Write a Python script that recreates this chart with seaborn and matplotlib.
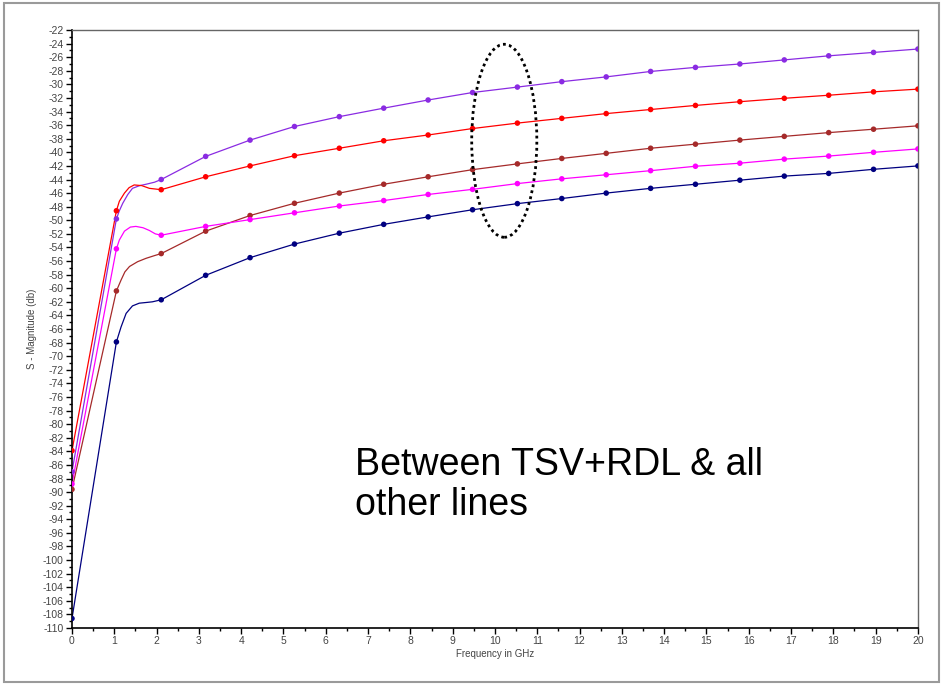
import numpy as np
import pandas as pd
import seaborn as sns
import matplotlib.pyplot as plt
from matplotlib.patches import Ellipse, Rectangle
from matplotlib.ticker import MultipleLocator

# frequency of the sample points (GHz)
freq = [0, 1.05, 2.11, 3.16, 4.21, 5.26, 6.32, 7.37, 8.42, 9.47,
        10.53, 11.58, 12.63, 13.68, 14.74, 15.79, 16.84, 17.89, 18.95, 20.0]

# S-magnitude (dB)
s_purple = [-87.0, -49.8, -44.0, -40.6, -38.2, -36.2, -34.75, -33.5, -32.3, -31.2,
            -30.4, -29.6, -28.9, -28.1, -27.5, -27.0, -26.4, -25.8, -25.3, -24.8]
s_red = [-83.9, -48.6, -45.5, -43.6, -42.0, -40.5, -39.4, -38.3, -37.45, -36.5,
         -35.7, -35.0, -34.3, -33.7, -33.1, -32.55, -32.05, -31.6, -31.1, -30.7]
s_brown = [-89.6, -60.4, -54.9, -51.6, -49.3, -47.5, -46.0, -44.7, -43.6, -42.55,
           -41.7, -40.9, -40.15, -39.4, -38.8, -38.2, -37.65, -37.1, -36.6, -36.1]
s_magenta = [-88.8, -54.2, -52.2, -50.9, -49.9, -48.9, -47.9, -47.1, -46.2, -45.45,
             -44.6, -43.9, -43.3, -42.7, -42.05, -41.6, -41.0, -40.55, -40.0, -39.5]
s_navy = [-108.6, -67.9, -61.7, -58.1, -55.5, -53.5, -51.9, -50.6, -49.5, -48.45,
          -47.55, -46.8, -46.0, -45.3, -44.7, -44.1, -43.5, -43.1, -42.5, -42.0]

# extra points of the drawn curves between the 1st and 2nd GHz (the bumps)
bend_purple_x = [1.12, 1.2, 1.32, 1.43, 1.6, 1.75, 1.95]
bend_purple_y = [-48.6, -47.5, -46.2, -45.3, -44.9, -44.7, -44.4]
bend_red_x = [1.12, 1.24, 1.35, 1.47, 1.65, 1.83]
bend_red_y = [-47.2, -46.0, -45.2, -44.8, -44.9, -45.3]
bend_brown_x = [1.16, 1.25, 1.36, 1.55, 1.75, 1.95]
bend_brown_y = [-58.8, -57.6, -56.8, -56.1, -55.6, -55.2]
bend_magenta_x = [1.12, 1.24, 1.38, 1.51, 1.68, 1.83, 1.97]
bend_magenta_y = [-52.9, -51.6, -51.0, -50.9, -51.1, -51.5, -52.0]
bend_navy_x = [1.16, 1.28, 1.43, 1.59, 1.75, 1.9]
bend_navy_y = [-65.7, -63.7, -62.6, -62.2, -62.1, -62.0]

series = {
    'purple': (s_purple, bend_purple_x, bend_purple_y),
    'red': (s_red, bend_red_x, bend_red_y),
    'brown': (s_brown, bend_brown_x, bend_brown_y),
    'magenta': (s_magenta, bend_magenta_x, bend_magenta_y),
    'navy': (s_navy, bend_navy_x, bend_navy_y),
}
palette = {'purple': '#8a2be2', 'red': '#ff0000', 'brown': '#a52a2a',
           'magenta': '#ff00ff', 'navy': '#000080'}

pts = []
curve = []
for name, (vals, bx, by) in series.items():
    pts.append(pd.DataFrame({'f': freq, 's': vals, 'line': name}))
    c = pd.DataFrame({'f': freq + bx, 's': vals + by, 'line': name})
    curve.append(c.sort_values('f'))
pts = pd.concat(pts)
curve = pd.concat(curve)

sns.set_style('white')
plt.rcParams['font.family'] = ['Liberation Sans', 'DejaVu Sans']
plt.rcParams['axes.unicode_minus'] = False

fig = plt.figure(figsize=(9.41, 6.85), dpi=100)
ax = fig.add_axes([0.0765, 0.0832, 0.899, 0.873])

sns.lineplot(data=curve, x='f', y='s', hue='line', palette=palette,
             sort=False, estimator=None, linewidth=0.9, legend=False, ax=ax)
sns.scatterplot(data=pts, x='f', y='s', hue='line', palette=palette,
                s=16, linewidth=0, legend=False, ax=ax, zorder=3)

ax.set_xlim(0, 20)
ax.set_ylim(-110, -22)
ax.xaxis.set_major_locator(MultipleLocator(1))
ax.xaxis.set_minor_locator(MultipleLocator(0.5))
ax.yaxis.set_major_locator(MultipleLocator(2))
ax.yaxis.set_minor_locator(MultipleLocator(1))
ax.tick_params(which='major', direction='out', length=4, width=1,
               labelsize=7.5, labelcolor='#444444', color='black',
               left=True, bottom=True, pad=2)
ax.tick_params(which='minor', direction='out', length=2.5, width=1,
               color='black', left=True, bottom=True)
for side in ['left', 'bottom']:
    ax.spines[side].set_color('black')
    ax.spines[side].set_linewidth(1.2)
for side in ['top', 'right']:
    ax.spines[side].set_color('#666666')
    ax.spines[side].set_linewidth(1.0)

ax.set_xlabel('Frequency in GHz', fontsize=7, color='#444444', labelpad=2)
ax.set_ylabel('S - Magnitude (db)', fontsize=7, color='#444444', labelpad=4)

# dotted ellipse marking the spread at ~10 GHz
ell_center = (10.22, -38.3)
ell_w, ell_h = 1.54, 28.4
ax.add_patch(Ellipse(ell_center, ell_w, ell_h, fill=False, edgecolor='black',
                     linestyle=(0, (1, 1.2)), linewidth=2, zorder=4))

# va='baseline' on two lines anchors the last line
fig.text(355 / 941, 1 - 515 / 685, 'Between TSV+RDL & all\nother lines',
         fontsize=27, color='black', ha='left', va='baseline',
         linespacing=1.15)

# grey frame around the whole picture
fig.patches.append(Rectangle((4 / 941, 3 / 685), 935 / 941, 679 / 685,
                             transform=fig.transFigure, fill=False,
                             edgecolor='#9a9a9a', linewidth=1.5))

fig.savefig('out.png', dpi=100)
